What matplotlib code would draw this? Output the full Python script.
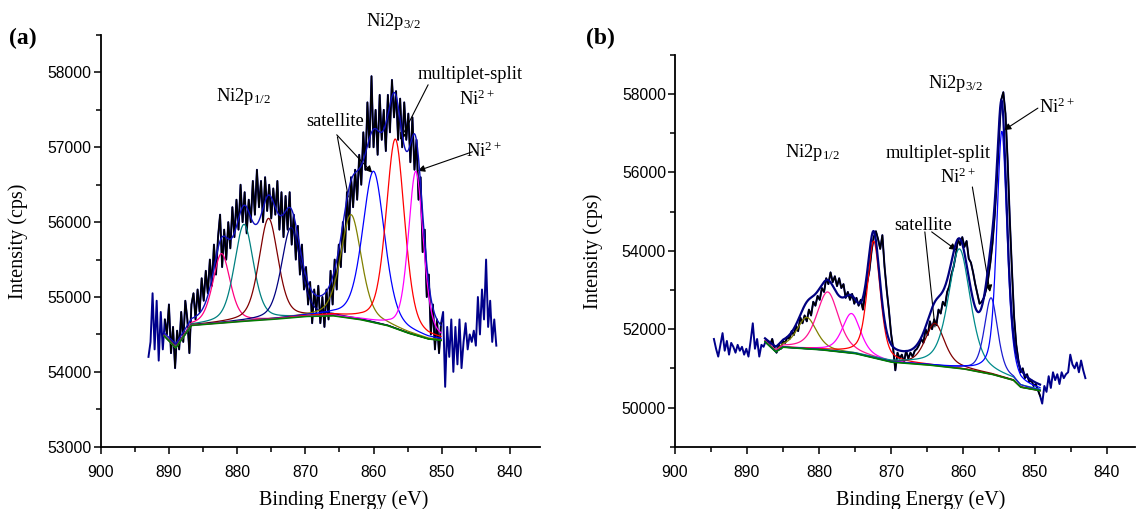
import numpy as np
import matplotlib
matplotlib.use("Agg")
import matplotlib.pyplot as plt
from matplotlib.ticker import MultipleLocator, FormatStrFormatter

plt.rcParams["font.family"] = ["Liberation Serif", "DejaVu Serif"]
plt.rcParams["mathtext.fontset"] = "custom"
plt.rcParams["mathtext.rm"] = "Liberation Serif"
plt.rcParams["mathtext.it"] = "Liberation Serif:italic"

# ---- sample (a): raw spectrum, 0.3 eV step starting at 893.0 eV ----
a_start, a_step = 893.0, 0.3
a_counts = [
    54200, 54400, 55050, 54300, 54950, 54150, 54800, 54300, 54700,
    54500, 54900, 54250, 54600, 54050, 54550, 54300, 54800, 54400, 54950,
    54700, 54250, 54900, 55050,
    54700, 55100, 54800, 55250, 54950, 55350, 55050, 55500, 55150, 55700,
    55300, 55800, 56100, 55400, 55900, 55500, 56000, 55650, 56200, 55800,
    56300, 55900, 56500, 56000, 56400, 55850, 56300, 56000, 56550, 56100,
    56700, 56200, 56550, 56000, 56600, 56150, 56500, 56050, 56450, 56100,
    56550, 55900, 56400, 55800, 56350, 55900, 56400, 55700, 56100, 55500,
    55950, 55300, 55700, 55100, 55400, 54900, 55200, 54650, 55100, 54800,
    55150, 54650, 55000, 54600, 55100, 54700, 55350, 54900, 55500, 55100,
    55700, 55400, 56000, 55600, 56400, 55900, 56600, 56200, 56700, 56300,
    56900, 56500, 57200, 56700, 57600, 57000, 57950, 57000, 57500, 56900,
    57700, 57100, 57500, 56950, 57700, 57200, 57900, 57400, 57750, 57100,
    57650, 57000, 57600, 57100, 57450, 56800, 57400, 56700, 57100, 56300,
    56600, 55600, 55900, 55000, 55300, 54500, 54900, 54300, 54700, 54250,
    54650,
    54800, 53800, 54600, 54200, 54700, 54000, 54600, 54100, 54700, 54050,
    54400, 54650, 54300, 54500, 54400, 54550, 54350, 55000, 54500, 55100,
    54700, 55500, 54600, 54950, 54400, 54700, 54350,
]
a_fit_range = (890.7, 850.1)
# Shirley-type background, read at knots
a_bg_e = [890.7, 889.0, 886.7, 880.0, 875.0, 870.0, 866.0, 862.0, 858.0, 855.0, 852.0, 850.1]
a_bg_i = [54480, 54320, 54620, 54670, 54700, 54740, 54750, 54700, 54620, 54520, 54440, 54420]
# fitted components: centre (eV), top (cps), FWHM (eV)
a_centre = [882.3, 879.0, 875.4, 872.1, 863.3, 860.0, 856.8, 853.8]
a_top = [55580, 55970, 56050, 55930, 56100, 56680, 57110, 56680]
a_fwhm = [3.0, 3.3, 3.3, 3.3, 3.6, 3.8, 3.2, 2.6]
a_colors = ["#ff0080", "#008080", "#800000", "#000080",
            "#808000", "#0000ff", "#ff0000", "#ff00ff"]

# ---- sample (b): raw spectrum, 0.3 eV step starting at 894.6 eV ----
b_start, b_step = 894.6, 0.3
b_counts = [
    51750, 51500, 51300, 51600, 51900, 51450, 51700, 51350, 51650, 51550,
    51400, 51600, 51450, 51550, 51350, 51500, 51300, 51700, 52150, 51500,
    51750, 51300, 51600, 51550, 51700, 51650, 51600, 51750, 51500, 51400,
    51600, 51500, 51700, 51650, 51800, 51750, 51950, 51850, 52100, 51950,
    52300, 52150, 52350, 52200, 52500, 52350, 52700, 52600, 52850, 52750,
    53050, 52950, 53300, 53150, 53450, 53200, 53350, 53100, 53300, 53050,
    53150, 52800, 52950, 52750, 52900, 52650, 52800, 52600, 52750, 52500,
    52900, 53200, 53500, 54000, 54350, 54500, 54300, 54050, 54400, 53600,
    53000, 52500, 51900, 51500, 50950, 51400, 51250, 51350, 51150, 51450,
    51250, 51400, 51300, 51450, 51500, 51600, 51750, 51650, 52000, 51850,
    52200, 52000, 52250, 52100, 52500, 52400, 52700, 52600, 52950, 53100,
    53400, 53600, 53900, 54300, 54150, 54350, 54100, 54250, 53800, 53700,
    53450, 53150, 52900, 52650, 52700, 52800, 53000, 53300, 53700, 54200,
    54900, 55800, 56900, 57850, 58050, 57500, 56300, 54800, 53500, 52300,
    51600, 51200, 50900, 51000, 50750, 50850, 50650, 50700, 50550, 50600,
    50450, 50300, 50100,
    50550, 50400, 50800, 50500, 50900, 50700, 50850, 50600, 50900, 50750,
    50850, 50900, 51350, 51100, 51000, 51150, 50900, 51200, 50950, 50750,
]
b_fit_range = (887.5, 849.3)
b_bg_e = [887.5, 886.0, 885.0, 880.0, 875.0, 870.0, 865.0, 860.0, 856.0, 853.0, 852.0, 849.3]
b_bg_i = [51680, 51420, 51540, 51480, 51380, 51160, 51090, 50990, 50850, 50700, 50520, 50430]
b_centre = [881.7, 878.8, 875.5, 872.4, 863.9, 860.5, 856.1, 854.6]
b_top = [52300, 52950, 52400, 54250, 52150, 54050, 52800, 57050]
b_fwhm = [3.2, 3.6, 3.0, 2.1, 3.2, 3.6, 2.2, 1.7]
b_colors = ["#808000", "#ff1493", "#ff00ff", "#ff0000",
            "#800000", "#008b8b", "#1c1cd0", "#0000ff"]


def gl_peak(e, centre, height, fwhm, eta):
    # mixed Gaussian-Lorentzian line shape
    r = (e - centre) / fwhm
    return height * ((1 - eta) * np.exp(-4 * np.log(2) * r ** 2) + eta / (1 + 4 * r ** 2))


def draw_panel(ax, start, step, counts, fit_range, bg_e, bg_i,
               centres, tops, fwhms, colors, eta, env_color, env_lw):
    counts = np.array(counts, dtype=float)
    energy = start - step * np.arange(len(counts))
    ax.plot(energy, counts, color="#00008b", lw=1.4, zorder=2)
    inside = (energy <= fit_range[0]) & (energy >= fit_range[1])
    ax.plot(energy[inside], counts[inside], color="black", lw=1.1, zorder=3)

    e = np.linspace(fit_range[0], fit_range[1], 800)
    bg = np.interp(e, bg_e[::-1], bg_i[::-1])
    envelope = bg.copy()
    for c, top, w, col in zip(centres, tops, fwhms, colors):
        h = top - np.interp(c, bg_e[::-1], bg_i[::-1])
        comp = gl_peak(e, c, h, w, eta)
        envelope += comp
        ax.plot(e, bg + comp, color=col, lw=0.9, zorder=4)
    ax.plot(e, bg, color="#008000", lw=1.2, zorder=5)
    ax.plot(e, envelope, color=env_color, lw=env_lw, zorder=6)


def style_axes(ax, xlim, ylim, ymajor, yminor, xlab_y, ylab_x, xlab_x):
    ax.set_xlim(*xlim)
    ax.set_ylim(*ylim)
    for side in ("top", "right"):
        ax.spines[side].set_visible(False)
    for side in ("left", "bottom"):
        ax.spines[side].set_linewidth(1.3)
    ax.xaxis.set_major_locator(MultipleLocator(10))
    ax.xaxis.set_minor_locator(MultipleLocator(5))
    ax.yaxis.set_major_locator(MultipleLocator(ymajor))
    ax.yaxis.set_minor_locator(MultipleLocator(yminor))
    ax.yaxis.set_major_formatter(FormatStrFormatter("%d"))
    ax.tick_params(which="both", direction="out", width=1.1)
    ax.tick_params(which="major", length=5)
    ax.tick_params(which="minor", length=3.5)
    ax.tick_params(axis="x", pad=8)
    ax.tick_params(axis="y", pad=1.5)
    for lab in ax.get_xticklabels() + ax.get_yticklabels():
        lab.set_fontfamily("Liberation Sans")
        lab.set_fontsize(11.3)
    ax.set_xlabel("Binding Energy (eV)", fontsize=14.5)
    ax.set_ylabel("Intensity (cps)", fontsize=14.5)
    ax.xaxis.set_label_coords(xlab_x, xlab_y)
    ax.yaxis.set_label_coords(ylab_x, 0.5)


arrow = dict(arrowstyle="-|>", color="black", lw=0.8, mutation_scale=10,
             shrinkA=0, shrinkB=0)
line = dict(arrowstyle="-", color="black", lw=0.8, shrinkA=0, shrinkB=0)
fs = 13.3

fig = plt.figure(figsize=(11.37, 5.09), dpi=100)

ax_a = fig.add_axes([0.0886, 0.1224, 0.3863, 0.8088])
draw_panel(ax_a, a_start, a_step, a_counts, a_fit_range, a_bg_e, a_bg_i,
           a_centre, a_top, a_fwhm, a_colors, 0.4, "#1010c0", 1.0)
style_axes(ax_a, (900, 835.6), (53000, 58500), 1000, 500, -0.105, -0.1655, 0.552)
ax_a.text(857.1, 58680, r"Ni2p$_{3/2}$", fontsize=fs, ha="center", va="center")
ax_a.text(879.1, 57675, r"Ni2p$_{1/2}$", fontsize=fs, ha="center", va="center")
ax_a.text(845.8, 57969, "multiplet-split", fontsize=fs, ha="center", va="center")
ax_a.text(844.8, 57635, r"Ni$^{2+}$", fontsize=fs, ha="center", va="center")
ax_a.text(865.6, 57341, "satellite", fontsize=fs, ha="center", va="center")
ax_a.text(843.9, 56940, r"Ni$^{2+}$", fontsize=fs, ha="center", va="center")
ax_a.annotate("", xy=(856.1, 57100), xytext=(852.0, 57835), arrowprops=arrow)
ax_a.annotate("", xy=(853.5, 56686), xytext=(845.5, 56940), arrowprops=arrow)
ax_a.annotate("", xy=(860.2, 56660), xytext=(865.4, 57167), arrowprops=arrow)
ax_a.annotate("", xy=(863.7, 56336), xytext=(865.3, 57140), arrowprops=line)

ax_b = fig.add_axes([0.5937, 0.1224, 0.4046, 0.7696])
draw_panel(ax_b, b_start, b_step, b_counts, b_fit_range, b_bg_e, b_bg_i,
           b_centre, b_top, b_fwhm, b_colors, 0.5, "#000080", 1.6)
style_axes(ax_b, (900, 836.1), (49000, 59000), 2000, 1000, -0.1105, -0.1565, 0.534)
ax_b.text(861.1, 58281, r"Ni2p$_{3/2}$", fontsize=fs, ha="center", va="center")
ax_b.text(880.9, 56520, r"Ni2p$_{1/2}$", fontsize=fs, ha="center", va="center")
ax_b.text(863.4, 56494, "multiplet-split", fontsize=fs, ha="center", va="center")
ax_b.text(860.7, 55880, r"Ni$^{2+}$", fontsize=fs, ha="center", va="center")
ax_b.text(865.5, 54655, "satellite", fontsize=fs, ha="center", va="center")
ax_b.text(847.0, 57676, r"Ni$^{2+}$", fontsize=fs, ha="center", va="center")
ax_b.annotate("", xy=(856.25, 52950), xytext=(858.7, 55630), arrowprops=arrow)
ax_b.annotate("", xy=(860.9, 54017), xytext=(864.35, 54484), arrowprops=arrow)
ax_b.annotate("", xy=(863.9, 52058), xytext=(865.3, 54484), arrowprops=line)
ax_b.annotate("", xy=(854.3, 57082), xytext=(849.6, 57643), arrowprops=arrow)

fig.text(23 / 1137, 1 - 38 / 509, "(a)", fontsize=17, fontweight="bold",
         ha="center", va="center")
fig.text(600 / 1137, 1 - 38 / 509, "(b)", fontsize=17, fontweight="bold",
         ha="center", va="center")

fig.savefig("out.png", dpi=100)
